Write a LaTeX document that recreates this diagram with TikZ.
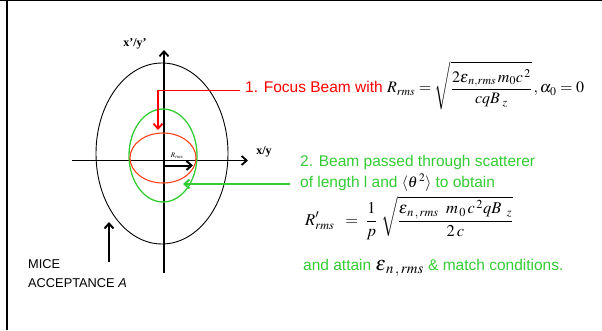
\documentclass[tikz,border=0pt]{standalone}
\usepackage{mathptmx}
\usepackage[no-math]{fontspec}
\setmainfont{Liberation Serif}
\setsansfont{Liberation Sans}
\usetikzlibrary{arrows.meta}
\definecolor{beamgreen}{RGB}{51,204,51}
\definecolor{beamred}{RGB}{255,0,0}
\definecolor{ellred}{RGB}{255,64,24}
\begin{document}
\begin{tikzpicture}[x=1pt,y=1pt,
    >={Straight Barb[length=5pt,width=9pt]},
    axis/.style={line width=1.8pt,->},
    pointer/.style={line width=2pt,->},
    bigtxt/.style={anchor=base west,inner sep=0pt,font=\sffamily\fontsize{15.5}{18}\selectfont},
    eqtxt/.style={anchor=base west,inner sep=0pt,font=\fontsize{16.5}{18}\selectfont},
    micetxt/.style={anchor=base west,inner sep=0pt,font=\sffamily\fontsize{12.8}{14}\selectfont}]
\useasboundingbox (0,0) rectangle (602,330);

% frame
\draw[line width=1.2pt] (0,329.4) -- (602,329.4);
\draw[line width=1.2pt] (7,0) -- (7,330);

% phase space axes
\draw[axis] (72,169.5) -- (248,169.5);
\draw[axis] (164,57) -- (164,280);
\node (xlab) at (264,178) {\fontsize{12}{14}\selectfont\bfseries x/y};
\node (xplab) at (135,286) {\fontsize{12}{14}\selectfont\bfseries x'/y'};

% acceptance and beam ellipses
\draw[line width=0.9pt] (162,176.5) ellipse (66 and 90.5);
\draw[beamgreen, line width=1.3pt] (163,174.5) ellipse (34 and 46.5);
\draw[ellred, line width=1.1pt] (163,172) ellipse (33 and 25);

% rms radius
\node (rlab) at (177,174) {\fontsize{7}{8}\selectfont$R_{rms}$};
\coordinate (rstart) at (164,164.5);
\coordinate (rtip) at (193,164.5);
\draw[pointer] (rstart) -- (rtip);

% step 1
\node[bigtxt, text=beamred] (focus) at (245,237)
  {1. Focus Beam with \textcolor{black}{\fontsize{16}{18}\selectfont$\displaystyle R_{rms}=\sqrt{\frac{\rule{0pt}{14pt}2\varepsilon_{\,n,rms}\,m_0c^{\,2}}{cqB_{\;z}}}\,,\alpha_0=0$}};
\coordinate (redstart) at (240,240);
\coordinate (redcorner) at (158,240);
\coordinate (redtip) at (158,200);
\draw[beamred, line width=0.8pt] (redstart) -- (redcorner);
\draw[beamred, line width=1.8pt, ->] (redcorner) -- (redtip);

% step 2
\node[bigtxt, text=beamgreen] (scatterA) at (300,164) {2. Beam passed through scatterer};
\node[bigtxt, text=beamgreen] (scatterB) at (300,143)
  {of length l and \textcolor{black}{$\langle\theta^{\,2}\rangle$} to obtain};
\node[eqtxt] (rprime) at (305,105)
  {$\displaystyle R'_{rms}\;\;=\;\frac{1}{p}\;\sqrt{\frac{\rule{0pt}{13pt}\varepsilon_{\,n\,,\,rms}\;\;m_{\,0}\,c^{\,2}qB_{\;\;z}}{2\,c}}$};
\node[bigtxt, text=beamgreen] (attain) at (303,60)
  {and attain \textcolor{black}{\fontsize{20}{22}\selectfont$\varepsilon_{\,n\,,\,rms}$}\ \& match conditions.};
\coordinate (greenstart) at (290,146);
\coordinate (greentip) at (183,146);
\draw[beamgreen, pointer] (greenstart) -- (greentip);

% acceptance label
\node[micetxt] (mice) at (28,62) {MICE};
\node[micetxt] (accept) at (28,43) {ACCEPTANCE \textit{A}};
\coordinate (micestart) at (109,68);
\coordinate (micetip) at (109,108);
\draw[pointer] (micestart) -- (micetip);
\end{tikzpicture}
\end{document}
